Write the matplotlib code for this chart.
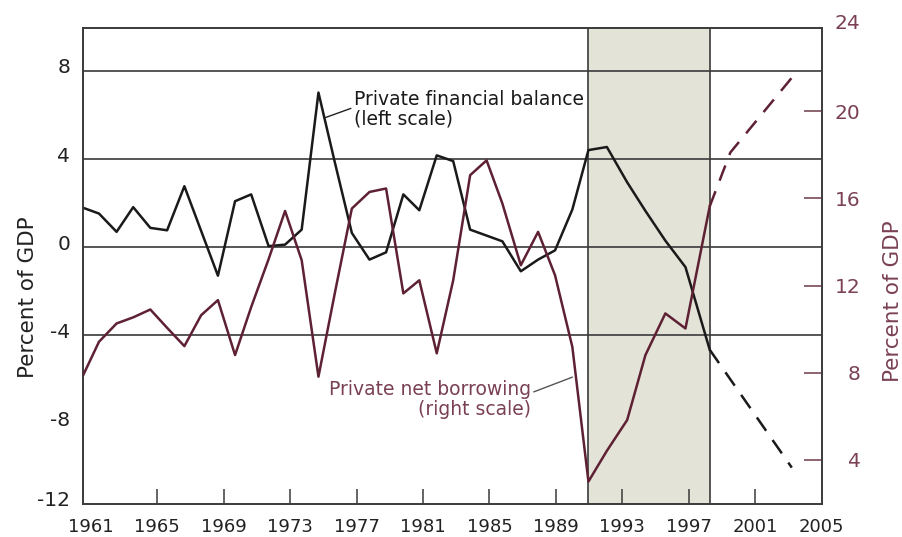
import matplotlib.pyplot as plt
from matplotlib.transforms import ScaledTranslation

# yearly observations 1961-1997; obs_x is where each point sits on the year axis of the source
obs_year = list(range(1961, 1998))
obs_x = [1960.55, 1961.5, 1962.56, 1963.56, 1964.59, 1965.6, 1966.64, 1967.65, 1968.66, 1969.69,
         1970.66, 1971.71, 1972.7, 1973.7, 1974.71, 1975.7, 1976.72, 1977.78, 1978.78, 1979.82,
         1980.78, 1981.83, 1982.82, 1983.84, 1984.83, 1985.78, 1986.89, 1987.93, 1988.95, 1989.99,
         1990.96, 1992.07, 1993.29, 1994.39, 1995.59, 1996.8, 1998.26]
# private financial balance, % of GDP (left scale)
balance = [1.79, 1.53, 0.70, 1.82, 0.88, 0.77, 2.77, 0.74, -1.29, 2.09,
           2.40, 0.05, 0.12, 0.80, 7.02, 3.84, 0.65, -0.56, -0.23, 2.40,
           1.68, 4.17, 3.91, 0.80, 0.53, 0.27, -1.09, -0.56, -0.14, 1.71,
           4.41, 4.55, 2.95, 1.65, 0.30, -0.90, -4.65]
# private net borrowing, % of GDP (right scale)
borrowing = [7.89, 9.42, 10.26, 10.54, 10.90, 10.06, 9.22, 10.64, 11.33, 8.81,
             11.01, 13.21, 15.42, 13.16, 7.82, 11.67, 15.53, 16.29, 16.45, 11.64,
             12.24, 8.89, 12.24, 17.06, 17.74, 15.76, 12.93, 14.46, 12.47, 9.19,
             3.01, 4.42, 5.83, 8.81, 10.72, 10.03, 15.63]

# projections (dashed)
proj_x_bal = [1998.26, 2003.2]
proj_bal = [-4.65, -10.0]
proj_x_bor = [1998.26, 1999.5, 2003.6]
proj_bor = [15.63, 18.1, 21.9]

shaded = (1990.95, 1998.25)
x_ticks = list(range(1961, 2006, 4))
left_ticks = [8, 4, 0, -4, -8]
right_ticks = [4, 8, 12, 16, 20]
grid_levels = [8, 4, 0, -4]

maroon = '#5e2133'
maroon_txt = '#7a4153'
dark = '#3a3a3a'

plt.rcParams['font.family'] = 'DejaVu Sans'

fig = plt.figure(figsize=(9.02, 5.37), dpi=100)
ax = fig.add_axes([82.7 / 902, 1 - 504 / 537, (821.7 - 82.7) / 902, (504 - 28) / 537])
ax2 = ax.twinx()

ax.axvspan(shaded[0], shaded[1], color='#e4e3d7', lw=0, zorder=0)
for lv in grid_levels:
    ax.axhline(lv, color=dark, lw=1.2, zorder=1)
for xv in shaded:
    ax.axvline(xv, color=dark, lw=1.2, zorder=1)

ax.plot(obs_x, balance, color='#1a1a1a', lw=1.8, zorder=3)
ax.plot(proj_x_bal, proj_bal, color='#1a1a1a', lw=1.8, ls=(0, (6.5, 4.5)), zorder=3)
ax2.plot(obs_x, borrowing, color=maroon, lw=1.8, zorder=3)
ax2.plot(proj_x_bor, proj_bor, color=maroon, lw=1.8, ls=(0, (6.5, 4.5)), zorder=3)

ax.set_xlim(1960.52, 2004.9)
ax.set_ylim(-11.65, 9.95)
ax2.set_ylim(1.98, 23.81)

for a in (ax, ax2):
    for s in a.spines.values():
        s.set_color(dark)
        s.set_linewidth(1.2)

# x axis
ax.set_xticks(x_ticks)
ax.set_xticklabels([str(y) for y in x_ticks])
ax.tick_params(axis='x', direction='in', length=10.5, width=1.1, color=dark,
               pad=10, labelsize=13, labelcolor='#222222')
xt = ax.xaxis.get_major_ticks()
xt[0].tick1line.set_visible(False)
xt[-1].tick1line.set_visible(False)

# left axis, bottom label squeezed onto the lower frame as in the source
ymin = ax.get_ylim()[0]
ax.set_yticks(left_ticks + [ymin])
ax.set_yticklabels([str(v) for v in left_ticks] + ['-12'])
ax.tick_params(axis='y', length=0, pad=9, labelsize=14.5, labelcolor='#222222')
for lbl in ax.get_yticklabels():
    lbl.set_transform(lbl.get_transform() + ScaledTranslation(0, 0.05, fig.dpi_scale_trans))

# right axis
ax2.set_yticks(right_ticks)
ax2.set_yticklabels([str(v) for v in right_ticks])
ax2.tick_params(axis='y', direction='in', length=13, width=1.1, color='#6d3a48',
                pad=28, labelsize=14.5, labelcolor=maroon_txt)
for lbl in ax2.get_yticklabels():
    lbl.set_horizontalalignment('right')
ax2.annotate('24', xy=(1, 24), xycoords=('axes fraction', 'data'), xytext=(28, 0),
             textcoords='offset points', ha='right', va='center', fontsize=14.5,
             color=maroon_txt, annotation_clip=False)

fig.text(28 / 902, 1 - 297.5 / 537, 'Percent of GDP', rotation=90, ha='center', va='center',
         fontsize=15.5, color='#222222')
fig.text(893.3 / 902, 1 - 301.5 / 537, 'Percent of GDP', rotation=90, ha='center', va='center',
         fontsize=15.5, color=maroon_txt)

ax.annotate('Private financial balance\n(left scale)', xy=(1975.07, 5.87), xytext=(1976.83, 6.26),
            ha='left', va='center', fontsize=13.5, linespacing=1.05, color='#1a1a1a', zorder=5,
            arrowprops=dict(arrowstyle='-', color='#222222', lw=1, shrinkA=0, shrinkB=0,
                            relpos=(0, 0.55)))
ax2.annotate('Private net borrowing\n(right scale)', xy=(1990.0, 7.8), xytext=(1987.5, 6.77),
             ha='right', va='center', multialignment='right', fontsize=13.5, linespacing=1.05,
             color=maroon_txt, zorder=5,
             arrowprops=dict(arrowstyle='-', color='#555555', lw=1, shrinkA=0, shrinkB=0,
                             relpos=(1, 0.67)))

fig.savefig('out.png', dpi=100)
